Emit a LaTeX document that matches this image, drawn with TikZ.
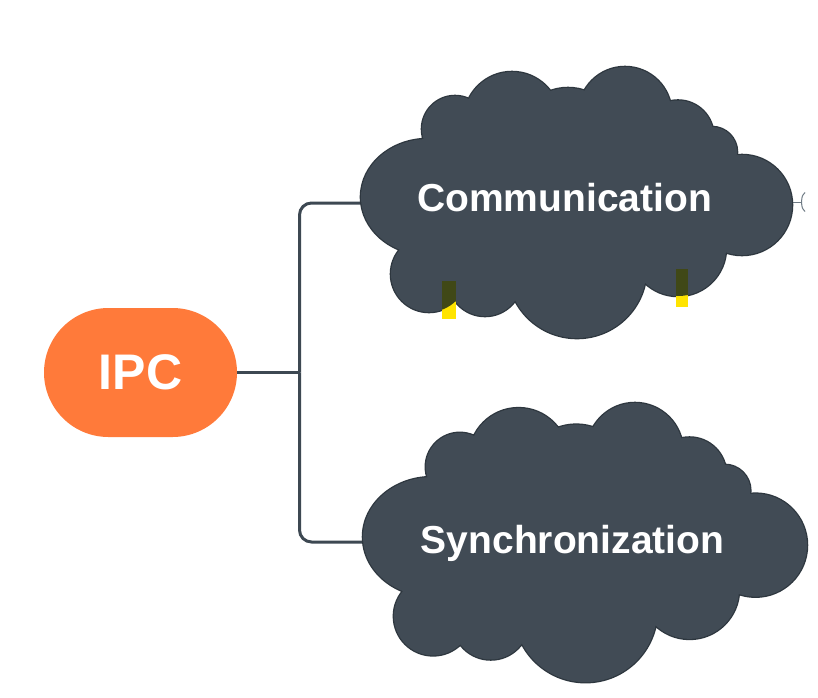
\documentclass[tikz,border=0pt]{standalone}
\usepackage{fontspec}
\setmainfont{Liberation Sans}
\usetikzlibrary{shapes.misc}
\definecolor{ipcorange}{RGB}{255,122,58}
\definecolor{cloudcol}{RGB}{65,75,85}
\definecolor{cloudedge}{RGB}{46,55,63}
\definecolor{linecol}{RGB}{61,72,82}
\definecolor{forkcol}{RGB}{110,122,132}
\definecolor{markyellow}{RGB}{255,228,0}
\definecolor{markolive}{RGB}{64,72,22}
% bumps of the cloud outline (frame of the Communication cloud)
\def\cloudcircles{(428,197) ellipse [x radius=67, y radius=58]
 (455,129) circle [radius=33]
 (512,120) circle [radius=48]
 (568,140) circle [radius=52]
 (625,113.5) circle [radius=46.5]
 (678,136) circle [radius=35.5]
 (712,152) circle [radius=25]
 (742,205) circle [radius=50]
 (678,248) circle [radius=48]
 (577,268.5) circle [radius=69.5]
 (485,279) circle [radius=37]
 (429,274) circle [radius=38]}
\def\cloudcore{(428,142) -- (470,102) -- (548,95) -- (586,94) -- (670,106) -- (710,130) -- (733,158) -- (720,248) -- (645,278) -- (514,294) -- (455,296) -- (404,246) -- cycle}
\begin{document}
\begin{tikzpicture}[x=1pt,y=-1pt,
  conn/.style={draw=linecol, line width=3pt},
  cloudrim/.style={draw=cloudedge, line width=2.6pt},
  cloudfill/.style={fill=cloudcol},
  cloudtext/.style={text=white, font=\fontsize{39}{39}\selectfont\bfseries, anchor=base, inner sep=0pt},
  ipcbox/.style={rounded rectangle, fill=ipcorange, minimum width=193pt, minimum height=129pt, inner sep=0pt, text=white, font=\fontsize{50}{50}\selectfont\bfseries},
  forkline/.style={draw=forkcol, line width=1pt},
  yellowmark/.style={fill=markyellow},
  olivemark/.style={fill=markolive}]
\useasboundingbox (0,0) rectangle (818,697);
\fill[white] (0,0) rectangle (818,697);

% central topic
\node[ipcbox] (ipc) at (140.5,372.5) {IPC};

% anchor points of the branches
\coordinate (jn) at (299.5,372.5);
\coordinate (commL) at (372,203);
\coordinate (syncL) at (374,542);
\coordinate (commR) at (790,202);

% connectors
\draw[conn] (ipc.east) -- (jn);
\draw[conn, rounded corners=12pt] (jn) |- (commL);
\draw[conn, rounded corners=12pt] (jn) |- (syncL);

% small collapse mark at the right of Communication
\draw[forkline] (commR) -- ++(11.5,0) coordinate (fk);
\draw[forkline] (805,192.5) .. controls (802,196) .. (fk) .. controls (802,208) .. (805,211.5);

% Communication cloud
\path[cloudrim] \cloudcircles;
\path[cloudfill] \cloudcircles;
\path[cloudfill] \cloudcore;
\fill[yellowmark] (442.3,281) rectangle (455.7,319);
\fill[yellowmark] (676,269) rectangle (688.3,306.7);
\begin{scope}
  \clip \cloudcircles;
  \fill[olivemark] (442.3,281) rectangle (455.7,319);
  \fill[olivemark] (676,269) rectangle (688.3,306.7);
\end{scope}

% Synchronization cloud (same outline, shifted and scaled)
\begin{scope}[shift={(362,403)}, scale=1.03, shift={(-360,-67)}]
  \path[cloudrim] \cloudcircles;
  \path[cloudfill] \cloudcircles;
  \path[cloudfill] \cloudcore;
\end{scope}

% texts
\node[cloudtext] (comm) at (564.5,211.7) {Communication};
\node[cloudtext] (sync) at (572.5,553.3) {Synchronization};
\end{tikzpicture}
\end{document}
